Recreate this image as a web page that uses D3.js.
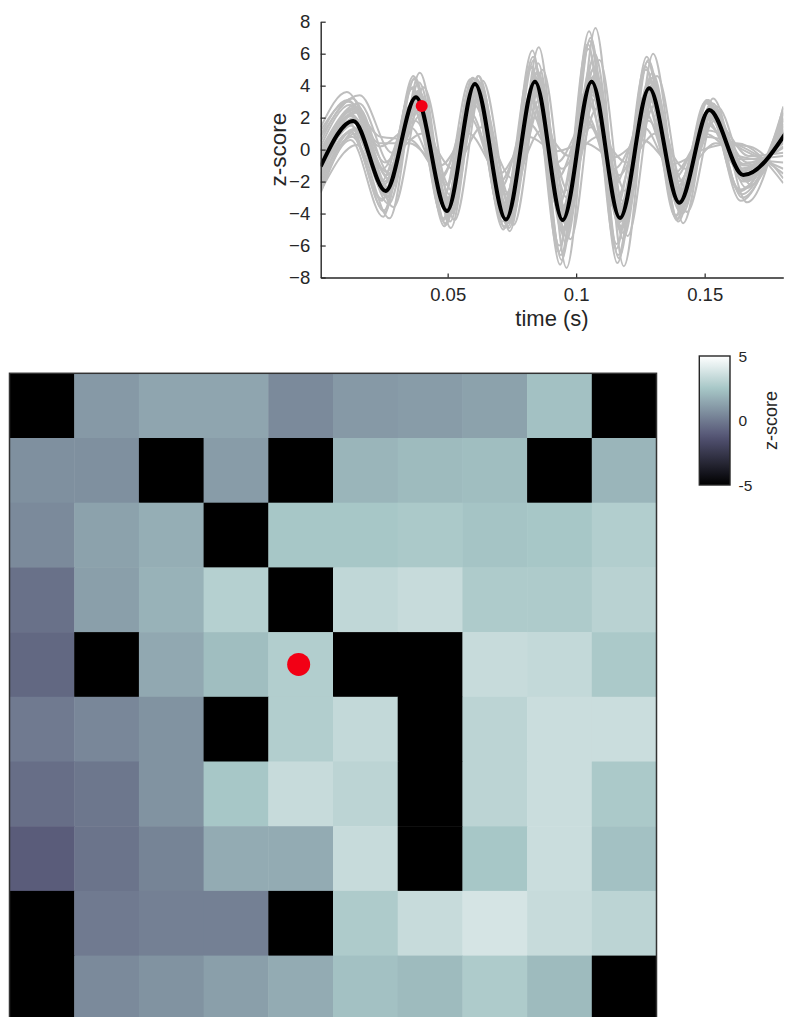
<!DOCTYPE html>
<html>
<head>
<meta charset="utf-8">
<script src="https://cdn.jsdelivr.net/npm/d3@7/dist/d3.min.js"></script>
<style>
  html, body { margin: 0; padding: 0; background: #fff; }
  svg { display: block; font-family: "Liberation Sans", Arial, Helvetica, sans-serif; }
</style>
</head>
<body>
<svg id="fig" width="786" height="1017"></svg>
<script>
// ---- trace panel data -------------------------------------------------
const timeTicks = [0.05, 0.1, 0.15];
const zTicks = [-8, -6, -4, -2, 0, 2, 4, 6, 8];

// average trace: samples at its turning points (s, z-score); the last one lies just past the axis end
const meanTime = [0.0006, 0.01327, 0.02588, 0.03767, 0.04973, 0.06062, 0.07268, 0.08397,
                  0.09475, 0.10603, 0.11704, 0.12844, 0.14012, 0.15179, 0.16502, 0.1822];
const meanZ = [-1.05, 1.79, -2.59, 3.27, -3.84, 4.11, -4.37, 4.25,
               -4.41, 4.25, -4.28, 3.84, -3.32, 2.48, -1.59, 1.2];

// single trials: values at the same turning points, each with its own lag (s)
const trialTime = [0.0006, 0.01327, 0.02588, 0.03767, 0.04973, 0.06062, 0.07268, 0.08397,
                   0.09475, 0.10603, 0.11704, 0.12844, 0.14012, 0.15179, 0.16502, 0.1806];
const trialLag = [0.0006, -0.0008, 0.0025, -0.001, 0.0004, 0.0012, -0.002, 0.0, -0.0005, 0.0015,
                  -0.0012, 0.0008, 0.003, -0.0003, 0.001, -0.0015, 0.0002, -0.0025, 0.0007, -0.0006,
                  0.0018, -0.0018, 0.0022, -0.0007, 0.0011, -0.0022, 0.0003, -0.0013, 0.0016, -0.0004];
const trialZ = [
  [-1.0, 2.0, -3.0, 3.6, -4.2, 4.4, -4.6, 4.8, -5.0, 5.0, -4.8, 4.2, -3.6, 2.8, -1.8, 1.4],
  [-1.5, 1.5, -2.2, 3.0, -3.6, 4.0, -4.0, 3.8, -4.0, 4.0, -4.0, 3.6, -3.0, 2.2, -1.4, 0.8],
  [0.8, 3.4, -0.2, 1.0, -1.2, 1.4, -1.8, 1.2, -0.4, 0.8, -0.8, 1.0, -1.2, 0.4, 0.2, -1.8],
  [-2.7, 0.6, -4.2, 4.6, -4.8, 4.5, -5.0, 6.2, -7.2, 7.4, -7.1, 5.8, -4.4, 3.1, -3.2, 2.6],
  [-0.6, 2.6, -1.6, 2.4, -3.0, 3.8, -3.6, 3.6, -3.8, 3.6, -3.6, 3.2, -2.8, 2.0, -1.0, 0.2],
  [-1.8, 1.0, -3.4, 4.2, -4.5, 4.6, -4.9, 5.4, -5.8, 6.0, -5.6, 4.8, -4.0, 2.9, -2.4, 2.0],
  [1.2, 3.0, 0.8, 0.6, -1.6, 2.0, -2.4, 2.6, -1.8, 2.2, -2.2, 2.4, -1.8, 1.0, -0.4, -0.8],
  [-2.2, 1.2, -2.8, 3.4, -4.0, 4.2, -4.4, 4.6, -5.2, 5.4, -5.0, 4.4, -3.8, 2.6, -2.0, 1.6],
  [-0.3, 2.2, -2.0, 3.0, -3.4, 3.9, -4.2, 4.0, -4.4, 4.4, -4.6, 3.8, -3.2, 2.4, -1.2, 0.6],
  [-2.6, 0.3, -4.3, 4.8, -4.9, 4.6, -5.1, 6.4, -7.4, 7.6, -7.3, 6.0, -4.6, 3.2, -3.3, 2.7],
  [0.2, 2.8, -1.2, 2.6, -2.8, 3.6, -3.4, 3.2, -3.2, 3.0, -3.0, 3.0, -2.4, 1.6, -0.6, -0.4],
  [-1.3, 1.8, -2.6, 3.3, -3.9, 4.1, -4.3, 4.4, -4.6, 4.6, -4.4, 4.0, -3.4, 2.5, -1.6, 1.2],
  [-2.4, 1.4, -3.6, 3.9, -4.4, 4.3, -4.7, 5.0, -5.6, 5.6, -5.4, 4.6, -3.9, 2.7, -2.2, 1.8],
  [0.5, 3.2, -0.8, 1.8, -2.2, 2.8, -2.8, 2.0, -1.2, 1.4, -1.6, 1.8, -2.0, 1.2, 0.0, -1.2],
  [-0.8, 2.4, -1.8, 3.2, -3.8, 4.3, -4.5, 4.2, -4.2, 4.2, -4.2, 4.0, -3.4, 2.6, -1.8, 1.0],
  [-2.0, 1.6, -3.2, 3.8, -4.3, 4.0, -4.2, 5.2, -6.4, 6.6, -6.2, 5.2, -4.2, 3.0, -2.6, 2.2],
  [-1.1, 1.9, -2.4, 3.1, -3.7, 4.2, -4.4, 4.3, -4.5, 4.5, -4.5, 3.9, -3.3, 2.3, -1.5, 1.1],
  [1.4, 3.6, 0.4, 0.4, -1.0, 1.0, -1.5, 0.8, -0.1, 0.4, -0.5, 0.6, -0.9, 0.0, 0.4, -2.1],
  [-1.6, 1.3, -2.9, 3.5, -4.1, 4.4, -4.8, 4.7, -4.9, 5.0, -4.9, 4.3, -3.6, 2.8, -1.9, 1.5],
  [-0.4, 2.1, -2.2, 2.9, -3.5, 3.8, -4.0, 3.9, -4.1, 4.1, -4.1, 3.7, -3.1, 2.2, -1.3, 0.9],
  [-0.9, 1.7, -2.5, 3.4, -4.0, 4.2, -4.5, 4.5, -4.7, 4.6, -4.5, 4.0, -3.4, 2.5, -1.7, 1.2],
  [-1.9, 2.4, -2.0, 2.8, -3.2, 4.4, -4.1, 3.4, -3.6, 3.8, -3.8, 3.4, -3.0, 2.0, -1.2, 0.5],
  [0.0, 2.9, -1.0, 2.2, -2.6, 3.4, -3.2, 2.8, -2.6, 2.6, -2.6, 2.8, -2.2, 1.8, -0.4, -0.2],
  [-2.3, 1.1, -3.8, 4.4, -4.6, 4.5, -4.8, 5.8, -6.6, 6.8, -6.6, 5.5, -4.3, 3.0, -2.8, 2.3],
  [-1.2, 2.3, -2.7, 3.7, -4.1, 4.0, -4.6, 4.9, -5.4, 5.2, -5.2, 4.5, -3.7, 2.6, -2.0, 1.3],
  [0.9, 3.1, 0.2, 1.4, -1.8, 2.4, -2.0, 1.6, -0.8, 1.8, -1.2, 1.4, -1.5, 0.8, 0.3, -1.5],
  [-0.5, 2.5, -1.4, 2.7, -3.3, 3.7, -3.8, 3.5, -3.5, 3.4, -3.4, 3.3, -2.7, 2.1, -0.9, 0.4],
  [-1.7, 1.1, -3.1, 3.9, -4.4, 4.2, -4.5, 5.1, -6.0, 6.3, -5.9, 5.0, -4.1, 2.9, -2.5, 1.9],
  [-0.2, 2.7, -1.5, 2.5, -2.9, 3.5, -3.5, 3.1, -3.0, 3.2, -3.3, 3.1, -2.6, 1.9, -0.8, 0.1],
  [-2.5, 0.8, -3.9, 4.5, -4.7, 4.4, -4.9, 5.6, -6.9, 7.0, -6.8, 5.6, -4.5, 3.1, -3.0, 2.4]
];

// highlighted sample on the average trace
const markerTime = 0.0399;
const markerZ = 2.73;

// ---- electrode grid data (10 x 10 z-scores at the marked sample) -----
const gridRows = [
  [-5, 1.0, 1.4, 1.4, 0.5, 1.0, 1.1, 1.3, 2.3, -5],
  [0.7, 0.7, -5, 1.1, -5, 1.9, 2.1, 2.2, -5, 1.9],
  [0.5, 1.3, 1.7, -5, 2.5, 2.5, 2.6, 2.4, 2.5, 2.8],
  [-0.3, 1.2, 1.8, 2.9, -5, 3.2, 3.4, 2.7, 2.7, 3.0],
  [-0.6, -5, 1.5, 2.2, 2.8, -5, -5, 3.4, 3.3, 2.6],
  [0.0, 0.4, 0.8, -5, 2.8, 3.3, -5, 3.1, 3.5, 3.5],
  [-0.4, -0.1, 0.8, 2.5, 3.4, 3.1, -5, 3.1, 3.5, 2.6],
  [-1.0, -0.2, 0.3, 1.6, 1.6, 3.4, -5, 2.5, 3.5, 2.3],
  [-5, 0.0, 0.2, 0.2, -5, 2.7, 3.4, 3.8, 3.4, 3.1],
  [-5, 0.5, 0.8, 1.2, 1.6, 2.3, 2.1, 2.7, 2.1, -5]
];
const markerCell = { row: 4, col: 4 };
const colorTicks = [-5, 0, 5];

// ---- drawing -------------------------------------------------------------
const svg = d3.select("#fig");
const ink = "#262626";

// bone colormap (piecewise linear), mapped onto the z-score range
const bone = d3.scaleLinear()
  .domain([-5, -1.25, 2.5, 5])
  .range(["rgb(0,0,0)", "rgb(84,84,116)", "rgb(167,199,199)", "rgb(255,255,255)"])
  .clamp(true);

// trace panel
const tp = { left: 320.7, right: 783.3, top: 21.7, bottom: 277.5 };
const x = d3.scaleLinear().domain([0.0006, 0.1806]).range([tp.left, tp.right]);
const y = d3.scaleLinear().domain([-8, 8]).range([tp.bottom, tp.top]);

svg.append("defs").append("clipPath").attr("id", "plotClip")
  .append("rect")
  .attr("x", tp.left).attr("y", tp.top)
  .attr("width", tp.right - tp.left).attr("height", tp.bottom - tp.top);

const line = d3.line().x(d => x(d[0])).y(d => y(d[1])).curve(d3.curveMonotoneX);

const plot = svg.append("g").attr("clip-path", "url(#plotClip)");
const last = trialTime.length - 1;
trialZ.forEach((vals, k) => {
  const pts = vals.map((v, i) => [(i === 0 || i === last) ? trialTime[i] : trialTime[i] + trialLag[k], v]);
  plot.append("path")
    .attr("d", line(pts))
    .attr("fill", "none")
    .attr("stroke", "#bebebe")
    .attr("stroke-width", 2);
});
plot.append("path")
  .attr("d", line(meanTime.map((t, i) => [t, meanZ[i]])))
  .attr("fill", "none")
  .attr("stroke", "#000")
  .attr("stroke-width", 4)
  .attr("stroke-linejoin", "round");

svg.append("circle")
  .attr("cx", x(markerTime)).attr("cy", y(markerZ)).attr("r", 6)
  .attr("fill", "#f20015");

const yAxis = svg.append("g")
  .attr("transform", `translate(${tp.left},0)`)
  .call(d3.axisLeft(y).tickValues(zTicks).tickFormat(d3.format("d"))
    .tickSizeInner(-5).tickSizeOuter(0).tickPadding(10.5));
const xAxis = svg.append("g")
  .attr("transform", `translate(0,${tp.bottom})`)
  .call(d3.axisBottom(x).tickValues(timeTicks).tickFormat(d => String(d))
    .tickSizeInner(-4).tickSizeOuter(0).tickPadding(10.5));
[yAxis, xAxis].forEach(g => {
  g.select(".domain").attr("stroke", ink).attr("stroke-width", 1.4);
  g.selectAll(".tick line").attr("stroke", ink).attr("stroke-width", 1.2);
  g.selectAll(".tick text").attr("fill", ink).style("font-size", "18.5px")
    .style("font-family", '"Liberation Sans", Arial, sans-serif');
});

svg.append("text")
  .attr("x", (tp.left + tp.right) / 2).attr("y", 326)
  .attr("text-anchor", "middle").attr("fill", ink).style("font-size", "22px")
  .text("time (s)");
svg.append("text")
  .attr("transform", `translate(286,${(tp.top + tp.bottom) / 2}) rotate(-90)`)
  .attr("text-anchor", "middle").attr("fill", ink).style("font-size", "22.5px")
  .text("z-score");

// electrode grid
const gp = { left: 9.5, top: 373.3, size: 647 };
const n = gridRows.length;
const gx = d3.scaleBand().domain(d3.range(n)).range([gp.left, gp.left + gp.size]);
const gy = d3.scaleBand().domain(d3.range(n)).range([gp.top, gp.top + gp.size]);

const grid = svg.append("g");
gridRows.forEach((row, r) => {
  grid.selectAll(null).data(row).enter().append("rect")
    .attr("x", (d, c) => gx(c))
    .attr("y", gy(r))
    .attr("width", gx.bandwidth() + 0.5)
    .attr("height", gy.bandwidth() + 0.5)
    .attr("fill", d => bone(d));
});
svg.append("rect")
  .attr("x", gp.left).attr("y", gp.top)
  .attr("width", gp.size).attr("height", gp.size)
  .attr("fill", "none").attr("stroke", "#333").attr("stroke-width", 1.5);
svg.append("circle")
  .attr("cx", gx(markerCell.col) + gx.bandwidth() / 2 - 2)
  .attr("cy", gy(markerCell.row) + gy.bandwidth() / 2)
  .attr("r", 11.5)
  .attr("fill", "#f20015");

// colorbar
const cb = { left: 699.3, width: 30.7, top: 356, bottom: 485 };
const cy = d3.scaleLinear().domain([-5, 5]).range([cb.bottom, cb.top]);
const grad = svg.select("defs").append("linearGradient")
  .attr("id", "boneGrad").attr("x1", 0).attr("y1", 1).attr("x2", 0).attr("y2", 0);
d3.range(0, 1.0001, 0.05).forEach(f => {
  grad.append("stop").attr("offset", f).attr("stop-color", bone(-5 + 10 * f));
});
svg.append("rect")
  .attr("x", cb.left).attr("y", cb.top)
  .attr("width", cb.width).attr("height", cb.bottom - cb.top)
  .attr("fill", "url(#boneGrad)")
  .attr("stroke", ink).attr("stroke-width", 1.4);
svg.append("g").selectAll("text").data(colorTicks).enter().append("text")
  .attr("x", 738.5).attr("y", d => cy(d)).attr("dy", "0.36em")
  .attr("fill", ink).style("font-size", "15.5px")
  .text(d => String(d));
svg.append("text")
  .attr("transform", `translate(777,${(cb.top + cb.bottom) / 2}) rotate(-90)`)
  .attr("text-anchor", "middle").attr("fill", ink).style("font-size", "18px")
  .text("z-score");
</script>
</body>
</html>
